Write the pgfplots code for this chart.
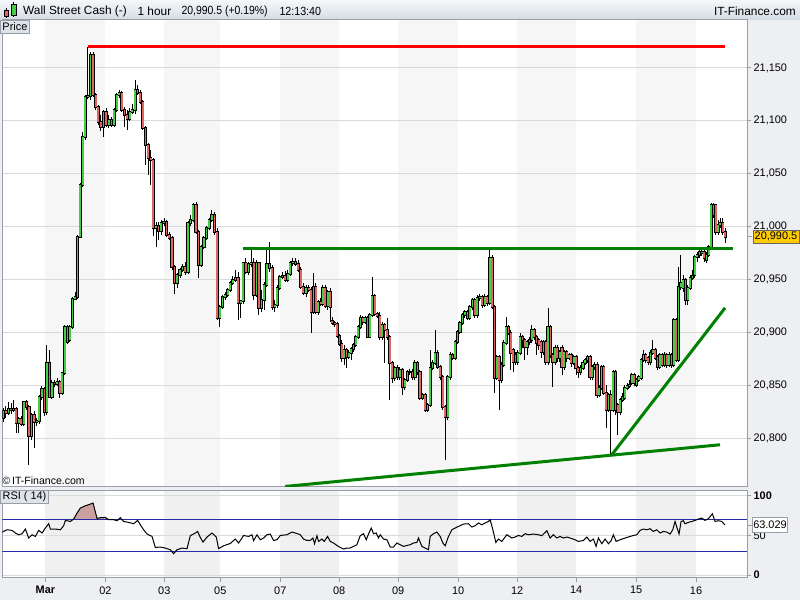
\documentclass[border=0pt]{standalone}
\usepackage{fontspec}
\setmainfont{Liberation Sans}
\usepackage{pgfplots}
\pgfplotsset{compat=1.18}
\usepackage{pgfplotstable}
\definecolor{bgc}{RGB}{238,239,242}
\definecolor{frame}{RGB}{150,158,168}
\definecolor{band}{RGB}{246,246,246}
\definecolor{bandr}{RGB}{240,240,240}
\definecolor{gridc}{RGB}{218,218,218}
\definecolor{upc}{RGB}{70,205,70}
\definecolor{dnc}{RGB}{224,100,100}
\definecolor{tl}{RGB}{0,128,0}
\definecolor{rsib}{RGB}{40,40,170}
\definecolor{rsif}{RGB}{205,160,160}
\definecolor{hdrtop}{RGB}{245,248,250}
\definecolor{hdrbot}{RGB}{212,220,228}
\definecolor{boxc}{RGB}{221,227,233}
\definecolor{gold}{RGB}{255,204,0}
\newcommand\fs[1]{\fontsize{#1}{#1}\selectfont}
\pgfplotsset{candle/.style={only marks, mark=*, mark size=0pt, mark options={draw=none, fill=none}, forget plot}}

\pgfplotstableread{
x o h l c
3.0 20819.2 20828.6 20815.4 20825.8
5.6 20825.8 20830.5 20819.2 20823.9
8.1 20823.9 20834.3 20822.0 20827.7
10.7 20827.7 20833.4 20823.0 20826.7
13.2 20826.7 20836.2 20824.9 20827.7
15.8 20827.7 20829.6 20805.0 20814.5
18.4 20814.5 20820.1 20805.0 20818.2
20.9 20818.2 20821.1 20811.6 20813.5
23.5 20813.5 20835.3 20811.6 20834.3
26.0 20834.3 20836.2 20826.7 20829.6
28.6 20829.6 20831.5 20774.8 20802.2
31.2 20802.2 20823.9 20798.4 20822.0
33.7 20822.0 20825.8 20790.8 20815.4
36.3 20815.4 20819.2 20811.6 20816.3
38.8 20816.3 20840.9 20813.5 20839.0
41.4 20839.0 20849.4 20836.2 20846.6
44.0 20846.6 20848.5 20821.1 20824.9
46.5 20824.9 20888.2 20822.0 20871.2
49.1 20871.2 20883.5 20838.1 20839.0
51.6 20839.0 20855.1 20837.1 20852.3
54.2 20852.3 20855.1 20848.5 20851.3
56.8 20851.3 20857.0 20849.4 20853.2
59.3 20853.2 20855.1 20838.1 20842.8
61.9 20842.8 20862.7 20840.9 20861.7
64.4 20861.7 20907.1 20859.8 20905.2
67.0 20905.2 20907.1 20889.1 20891.0
69.6 20892.9 20907.1 20891.0 20905.2
72.1 20905.2 20933.5 20903.3 20931.6
74.7 20931.6 20938.3 20930.7 20933.5
77.2 20933.5 20992.1 20931.6 20990.2
79.8 20990.2 21041.3 20989.3 21039.4
82.4 21039.4 21089.5 21037.5 21084.7
84.9 21084.7 21124.4 21081.9 21122.5
87.5 21122.5 21169.8 21120.6 21123.5
90.1 21123.5 21165.1 21119.7 21162.2
92.7 21162.2 21165.1 21122.5 21124.4
95.4 21124.4 21126.3 21110.2 21113.1
98.0 21113.1 21115.0 21096.1 21098.9
100.6 21098.9 21105.5 21090.4 21094.2
103.2 21094.2 21110.2 21084.7 21108.4
105.8 21108.4 21112.1 21094.2 21096.1
108.5 21096.1 21105.5 21093.2 21100.8
111.1 21100.8 21103.6 21094.2 21096.1
113.7 21096.1 21112.1 21094.2 21110.2
116.3 21110.2 21126.3 21108.4 21124.4
118.9 21124.4 21129.2 21121.6 21126.3
121.6 21126.3 21128.2 21108.4 21110.2
124.2 21110.2 21113.1 21094.2 21105.5
126.8 21105.5 21110.2 21091.4 21101.7
129.4 21101.7 21112.1 21099.9 21108.4
132.0 21108.4 21115.9 21106.5 21110.2
134.7 21110.2 21138.6 21106.5 21129.2
137.3 21129.2 21133.9 21124.4 21126.3
139.9 21126.3 21129.2 21115.9 21117.8
142.5 21117.8 21119.7 21091.4 21093.2
145.1 21093.2 21095.1 21058.3 21077.2
147.8 21077.2 21079.1 21048.8 21064.9
150.4 21064.9 21072.5 21039.4 21063.0
153.0 21063.0 21064.9 20991.2 20998.7
155.7 20998.7 21004.4 20980.8 21000.6
158.3 21000.6 21004.4 20987.4 20995.9
161.0 20995.9 21006.3 20992.1 21003.5
163.7 21003.5 21008.2 21000.6 21004.4
166.3 21004.4 21006.3 20990.2 20992.1
169.0 20992.1 20994.9 20987.4 20989.3
171.7 20989.3 20991.2 20959.1 20961.9
174.3 20961.9 20963.8 20936.4 20946.8
177.0 20946.8 20956.2 20942.0 20954.3
179.7 20954.3 20960.9 20951.5 20959.1
182.3 20959.1 20964.7 20957.2 20961.9
185.0 20961.9 20966.6 20954.3 20957.2
187.7 20957.2 21005.4 20955.3 21003.5
190.3 21003.5 21011.0 21000.6 21006.3
193.0 21006.3 21022.4 21004.4 21020.5
195.7 21020.5 21023.3 20993.1 20994.9
198.3 20994.9 20996.9 20951.5 20963.8
201.0 20963.8 20982.7 20961.9 20980.8
203.7 20980.8 20991.2 20978.9 20989.3
206.3 20989.3 21000.6 20987.4 20998.7
209.0 20998.7 21008.2 20996.9 21006.3
211.7 21006.3 21015.8 21004.4 21011.0
214.3 21011.0 21013.9 20992.1 20994.9
217.0 20994.9 20998.7 20911.8 20913.7
219.6 20913.7 20926.0 20905.2 20924.1
222.2 20924.1 20935.4 20922.2 20933.5
224.8 20933.5 20938.3 20930.7 20935.4
227.4 20935.4 20942.0 20933.5 20940.2
230.0 20940.2 20948.7 20938.3 20946.8
232.6 20946.8 20953.4 20944.9 20949.6
235.2 20949.6 20959.1 20947.7 20951.5
237.8 20951.5 20957.2 20911.8 20927.9
240.4 20927.9 20930.7 20913.7 20929.8
243.0 20929.8 20966.6 20926.9 20965.7
245.6 20965.7 20970.4 20955.3 20957.2
248.2 20957.2 20966.6 20954.3 20964.7
250.8 20964.7 20977.9 20961.9 20965.7
253.5 20965.7 20970.4 20930.7 20935.4
256.1 20935.4 20968.5 20933.5 20965.7
258.7 20965.7 20966.6 20916.5 20923.1
261.3 20923.1 20940.2 20919.4 20930.7
263.9 20930.7 20947.7 20921.3 20944.9
266.5 20944.9 20977.9 20943.0 20964.7
269.2 20964.7 20985.5 20957.2 20960.9
271.8 20960.9 20963.8 20921.3 20924.1
274.4 20924.1 20930.7 20919.4 20926.0
277.0 20926.0 20944.9 20923.1 20942.0
279.6 20942.0 20954.3 20940.2 20952.5
282.2 20952.5 20957.2 20950.5 20953.4
284.8 20953.4 20958.1 20947.7 20949.6
287.5 20949.6 20959.1 20947.7 20955.3
290.1 20955.3 20967.6 20953.4 20965.7
292.7 20965.7 20970.4 20962.8 20966.6
295.3 20966.6 20970.4 20962.8 20964.7
297.9 20964.7 20968.5 20957.2 20959.1
300.5 20959.1 20961.9 20941.1 20943.0
303.1 20943.0 20946.8 20935.4 20937.3
305.8 20937.3 20944.9 20933.5 20942.0
308.4 20942.0 20944.9 20938.3 20940.2
311.0 20940.2 20943.0 20899.5 20919.4
313.3 20919.4 20956.2 20917.5 20943.0
315.7 20943.0 20946.8 20917.5 20919.4
318.0 20919.4 20930.7 20916.5 20928.8
320.4 20928.8 20932.6 20925.0 20926.9
322.7 20926.9 20944.9 20925.0 20942.0
325.1 20942.0 20944.9 20923.1 20925.0
327.4 20925.0 20940.2 20921.3 20938.3
329.8 20938.3 20942.0 20909.9 20924.1
332.1 20910.9 20914.6 20907.1 20909.0
334.5 20909.0 20910.9 20905.2 20908.0
336.8 20908.0 20909.9 20894.8 20896.7
339.2 20896.7 20898.6 20887.2 20889.1
341.5 20889.1 20892.9 20872.1 20875.9
343.8 20875.9 20888.2 20869.3 20883.5
346.2 20883.5 20885.3 20866.4 20876.8
348.5 20876.8 20883.5 20874.9 20880.6
350.9 20880.6 20886.3 20874.0 20884.4
353.2 20884.4 20890.1 20881.6 20888.2
355.6 20888.2 20897.6 20886.3 20895.7
357.9 20895.7 20907.1 20893.8 20905.2
360.3 20905.2 20916.5 20903.3 20913.7
362.6 20913.7 20915.6 20907.1 20909.9
365.0 20909.9 20915.6 20908.0 20913.7
367.3 20913.7 20915.6 20894.8 20895.7
369.7 20895.7 20918.4 20894.8 20916.5
372.0 20916.5 20952.5 20914.6 20934.5
374.5 20934.5 20936.4 20915.6 20917.5
377.0 20917.5 20919.4 20913.7 20915.6
379.6 20915.6 20919.4 20892.9 20895.7
382.1 20895.7 20909.9 20892.9 20907.1
384.6 20907.1 20909.0 20871.2 20902.4
387.1 20902.4 20913.7 20892.9 20895.7
389.6 20895.7 20897.6 20836.2 20871.2
392.1 20871.2 20873.1 20852.3 20857.0
394.7 20857.0 20868.3 20854.2 20866.4
397.2 20866.4 20869.3 20855.1 20857.9
399.7 20857.9 20867.4 20855.1 20864.6
402.2 20864.6 20866.4 20840.9 20848.5
404.7 20848.5 20857.0 20845.7 20855.1
407.2 20855.1 20864.6 20853.2 20862.7
409.8 20862.7 20865.5 20859.8 20862.7
412.3 20862.7 20865.5 20855.1 20857.9
414.8 20857.9 20874.0 20855.1 20871.2
417.3 20871.2 20873.1 20859.8 20862.7
419.8 20862.7 20864.6 20836.2 20838.1
422.3 20838.1 20842.8 20836.2 20840.9
424.9 20840.9 20842.8 20824.9 20826.7
427.4 20826.7 20833.4 20824.9 20831.5
429.9 20831.5 20883.5 20829.6 20866.4
432.4 20866.4 20874.0 20864.6 20871.2
434.9 20871.2 20902.4 20869.3 20880.6
437.4 20880.6 20883.5 20865.5 20867.4
440.0 20867.4 20869.3 20855.1 20857.9
442.5 20857.9 20859.8 20826.7 20829.6
445.0 20829.6 20831.5 20779.5 20820.1
447.5 20820.1 20859.8 20817.3 20857.9
449.9 20857.9 20881.6 20855.1 20878.7
452.4 20878.7 20880.6 20874.0 20875.9
454.9 20875.9 20892.9 20874.0 20891.0
457.4 20891.0 20902.4 20889.1 20900.5
459.8 20900.5 20910.9 20898.6 20909.0
462.3 20909.0 20918.4 20907.1 20916.5
464.8 20916.5 20921.3 20913.7 20919.4
467.2 20919.4 20921.3 20911.8 20913.7
469.7 20913.7 20926.0 20911.8 20924.1
472.2 20924.1 20932.6 20921.3 20930.7
474.6 20930.7 20932.6 20913.7 20916.5
477.1 20916.5 20935.4 20913.7 20932.6
479.6 20932.6 20936.4 20929.8 20933.5
482.1 20933.5 20935.4 20923.1 20926.0
484.5 20926.0 20936.4 20924.1 20933.5
487.0 20933.5 20935.4 20925.0 20927.9
489.5 20927.9 20978.9 20926.0 20970.4
492.0 20970.4 20973.2 20922.2 20924.1
494.3 20924.1 20926.0 20842.8 20857.0
496.7 20857.0 20878.7 20855.1 20876.8
499.0 20876.8 20878.7 20826.7 20855.1
501.3 20855.1 20872.1 20852.3 20869.3
503.7 20869.3 20892.9 20867.4 20890.1
506.0 20890.1 20914.6 20888.2 20905.2
508.3 20905.2 20907.1 20897.6 20899.5
510.6 20899.5 20902.4 20864.6 20880.6
513.0 20883.5 20885.3 20862.7 20872.1
515.3 20878.7 20881.6 20869.3 20872.1
517.6 20872.1 20883.5 20869.3 20880.6
520.0 20880.6 20899.5 20878.7 20895.7
522.3 20895.7 20897.6 20885.3 20892.9
524.6 20892.9 20894.8 20874.0 20886.3
527.0 20886.3 20892.9 20878.7 20891.0
529.3 20891.0 20895.7 20888.2 20892.9
531.6 20892.9 20907.1 20890.1 20902.4
533.9 20902.4 20904.2 20892.9 20895.7
536.3 20895.7 20897.6 20878.7 20890.1
538.6 20892.9 20894.8 20883.5 20888.2
540.9 20891.0 20892.9 20875.9 20881.6
543.3 20881.6 20892.9 20878.7 20891.0
545.6 20891.0 20892.9 20869.3 20872.1
547.9 20872.1 20923.1 20869.3 20905.2
550.3 20905.2 20907.1 20875.9 20878.7
552.6 20878.7 20880.6 20848.5 20872.1
554.9 20872.1 20888.2 20869.3 20885.3
557.2 20885.3 20888.2 20872.1 20875.9
559.6 20875.9 20883.5 20872.1 20881.6
561.9 20885.3 20888.2 20859.8 20867.4
564.2 20867.4 20883.5 20864.6 20881.6
566.6 20881.6 20883.5 20872.1 20875.9
568.9 20875.9 20880.6 20874.0 20878.7
571.2 20878.7 20880.6 20867.4 20871.2
573.6 20871.2 20878.7 20869.3 20876.8
575.9 20876.8 20878.7 20859.8 20866.4
578.2 20866.4 20868.3 20857.0 20862.7
580.5 20862.7 20869.3 20859.8 20866.4
582.9 20866.4 20874.0 20864.6 20871.2
585.2 20871.2 20875.9 20869.3 20874.0
587.5 20874.0 20878.7 20871.2 20876.8
589.9 20876.8 20878.7 20855.1 20857.9
592.2 20857.9 20869.3 20855.1 20867.4
594.5 20867.4 20872.1 20864.6 20869.3
596.9 20869.3 20872.1 20838.1 20840.9
599.2 20840.9 20850.4 20839.0 20847.5
601.5 20847.5 20869.3 20845.7 20867.4
603.8 20867.4 20869.3 20840.9 20842.8
606.2 20842.8 20850.4 20809.7 20826.7
608.5 20826.7 20842.8 20824.9 20840.9
610.8 20840.9 20845.7 20784.2 20826.7
613.2 20826.7 20864.6 20824.9 20862.7
615.5 20862.7 20864.6 20822.0 20826.7
617.8 20831.5 20833.4 20803.1 20824.9
620.2 20824.9 20838.1 20822.0 20836.2
622.5 20836.2 20842.8 20834.3 20839.0
624.8 20838.1 20850.4 20836.2 20847.5
627.1 20847.5 20852.3 20845.7 20849.4
629.5 20849.4 20855.1 20847.5 20850.4
631.8 20852.3 20861.7 20850.4 20859.8
634.1 20859.8 20861.7 20849.4 20852.3
636.5 20850.4 20857.0 20848.5 20855.1
638.8 20855.1 20859.8 20853.2 20857.9
641.1 20857.0 20875.9 20855.1 20874.0
643.5 20874.0 20883.5 20872.1 20878.7
645.8 20878.7 20880.6 20871.2 20874.0
648.1 20875.9 20877.8 20869.3 20872.1
650.4 20872.1 20883.5 20869.3 20880.6
652.8 20880.6 20892.9 20878.7 20883.5
655.1 20883.5 20885.3 20874.0 20875.9
657.4 20876.8 20878.7 20864.6 20867.4
659.8 20867.4 20880.6 20865.5 20878.7
662.1 20878.7 20880.6 20867.4 20869.3
664.4 20869.3 20881.6 20867.4 20878.7
666.8 20878.7 20880.6 20866.4 20869.3
669.1 20869.3 20881.6 20867.4 20878.7
671.4 20878.7 20880.6 20866.4 20869.3
673.7 20869.3 20913.7 20867.4 20911.8
676.1 20911.8 20913.7 20872.1 20874.0
678.4 20874.0 20961.9 20872.1 20943.0
680.7 20943.0 20973.2 20940.2 20946.8
683.1 20942.0 20954.3 20938.3 20949.6
685.4 20949.6 20951.5 20926.0 20930.7
687.7 20930.7 20944.9 20926.0 20942.0
690.1 20942.0 20954.3 20940.2 20951.5
692.4 20951.5 20959.1 20949.6 20953.4
694.7 20954.3 20973.2 20951.5 20971.3
697.0 20971.3 20976.1 20966.6 20973.2
699.4 20973.2 20977.9 20970.4 20976.1
701.7 20975.1 20978.9 20972.3 20976.1
704.0 20976.1 20978.9 20966.6 20970.4
706.4 20968.5 20976.1 20965.7 20973.2
708.7 20973.2 20982.7 20971.3 20980.8
711.0 20980.8 21022.4 20978.9 21020.5
713.4 21020.5 21022.4 21008.2 21011.0
715.7 21020.5 21021.4 20992.1 20994.9
718.0 20994.9 21006.3 20992.1 21001.6
720.3 21001.6 21008.2 20998.7 21003.5
722.7 21003.5 21008.2 20992.1 20994.9
725.0 20994.9 20998.7 20984.6 20990.5
}\candles

\pgfplotstableread{
x v
0 53.0
6.7 57.1
11.7 56.3
15 53.0
18.3 50.8
21.7 52.1
25 58.0
28.3 46.7
31.7 50.8
35 48.7
38.3 56.3
41.7 53.0
45 59.3
48.3 64.7
50 58.0
55 58.0
60 57.1
63.3 62.2
65 68.9
70 67.6
73.3 70.6
76.7 78.2
80 84.5
85 87.4
88.3 88.7
92.7 90.8
96.7 71.4
100 72.3
105 72.7
108.3 69.8
113.3 69.8
116.7 68.5
120 72.3
123.3 67.6
128.3 66.4
133.3 64.7
137.3 68.9
140 63.4
143.3 57.1
146.7 51.7
151.7 48.7
155 34.8
160 35.3
165 34.0
170 31.9
173.3 26.9
176.7 31.9
181.7 34.0
186.7 33.2
190 49.6
195 53.0
197.3 55.0
200 47.4
202.7 41.6
206.7 47.9
211.7 53.0
216 47.9
218.3 33.2
223.3 36.9
230 39.8
235 45.4
238.3 40.4
241.7 46.7
243.3 49.9
248.3 48.7
251.7 50.8
253.3 43.3
256.7 50.8
260 44.5
263.3 46.7
266.7 50.8
270 51.7
273.3 43.6
276.7 44.5
280 49.9
286.7 50.8
291.7 54.2
295 53.0
298.3 51.7
300 50.8
303.3 45.4
306.7 43.6
310 43.6
312.7 46.7
314.3 39.5
316.7 49.6
318.3 42.4
321.7 45.4
324 42.4
327.3 48.7
330 42.4
333.3 40.4
336.7 37.3
340 34.8
343.3 32.8
346.7 34.0
350 34.0
353.3 36.1
356.7 38.2
360 49.6
363.3 52.1
366 44.5
368.3 51.7
371 59.3
373.3 52.1
376 53.0
378.3 46.7
380 50.8
383.3 45.4
386.7 44.5
390 35.3
393.3 35.3
396.7 40.4
400 38.2
403.3 36.1
406.7 37.3
410 38.2
413.3 40.4
416.7 41.1
418.3 46.7
421.7 36.1
425 34.0
428.3 31.9
430 48.7
433.3 52.1
436.7 54.2
440 48.7
442.7 40.4
445 36.9
448.3 48.7
451.7 57.1
455 59.3
458.3 61.3
463.3 64.3
468.3 64.7
471.7 60.5
475 62.2
478.3 65.6
481.7 63.4
485 65.6
488.3 67.6
490 69.7
492.7 57.1
495.7 41.1
498.3 45.4
501.7 42.4
506.7 50.8
511.7 46.7
515 47.9
518.3 49.9
521.7 48.7
525 52.1
528.3 50.8
533.3 51.7
538.3 50.8
541.7 49.6
546.7 55.9
550 46.7
553.3 50.8
556.7 46.7
560 48.7
563.3 46.7
566.7 47.9
570 46.7
575 44.5
578.3 42.4
583.3 43.6
586.7 47.9
590 42.4
593.3 45.4
596 36.1
598.3 46.7
601.7 39.5
605 45.4
608.3 39.5
611 43.3
613.3 50.8
616 42.4
620 44.5
626.7 47.4
633.3 49.9
636.7 50.8
640 56.3
643.3 58.0
646.7 57.1
650 58.4
653.3 55.0
656.7 57.1
660 53.0
663.3 55.0
666.7 54.2
670 51.7
672.7 57.1
675 67.6
676.7 60.5
679 51.7
681 67.6
683.3 68.5
685 64.7
688.3 66.4
691.7 67.6
695 68.9
698.3 70.6
701.7 71.9
705 68.9
708.3 71.0
712.3 77.3
715 67.6
718.3 68.5
721.7 67.6
725 63.0
}\rsi

\begin{document}
\begin{tikzpicture}
\begin{scope}[x=0.75pt,y=0.75pt]
% background and header
\fill[bgc] (0,0) rectangle (800,600);
\shade[top color=hdrtop,bottom color=hdrbot] (0,580) rectangle (800,600);
% header icon
\draw[black,line width=0.6pt] (5.8,592) -- (5.8,582);
\filldraw[fill=dnc,draw=black,line width=0.5pt] (3.5,590) rectangle (8.2,583.5);
\draw[black,line width=0.6pt] (13.5,598) -- (13.5,583);
\filldraw[fill=upc,draw=black,line width=0.5pt] (11.2,596) rectangle (15.8,585);
\node[anchor=west,inner sep=0pt,font=\fs{8.9}] at (22.5,589) {Wall Street Cash (-)};
\node[anchor=west,inner sep=0pt,font=\fs{8.9}] at (137,589) {1 hour};
\node[anchor=west,inner sep=0pt,font=\fs{8.9},xscale=0.88] at (181,589) {20,990.5 (+0.19\%)};
\node[anchor=west,inner sep=0pt,font=\fs{8.9},xscale=0.9] at (279,589) {12:13:40};
\node[anchor=east,inner sep=0pt,font=\fs{8.9}] at (796,589) {IT-Finance.com};
% panels
\fill[white] (2,113) rectangle (747,580);
\fill[white] (2,22) rectangle (747,109.3);
\foreach \a/\b in {45/105,164/220,280/339,398/458,517/576,636/696} {
  \fill[band] (\a,113) rectangle (\b,580);
  \fill[bandr] (\a,22) rectangle (\b,109.3);
}
\end{scope}

\begin{axis}[
  at={(1.5pt,84.75pt)}, anchor=south west, scale only axis,
  width=558.75pt, height=350.25pt,
  xmin=2, xmax=747, ymin=20754.0, ymax=21195.3,
  axis line style={frame, line width=0.75pt},
  xtick=\empty,
  ytick={20800,20850,...,21150},
  scaled y ticks=false,
  ytick pos=right, yticklabel pos=right,
  tick align=outside, major tick length=3pt,
  tick style={frame, line width=0.75pt},
  ymajorgrids, grid style={gridc, line width=0.75pt},
  yticklabel style={font=\fs{8.2}, xshift=-1.6pt},
  /pgf/number format/1000 sep={,},
  /pgf/number format/assume math mode=true,
  clip=true,
]
% wicks
\addplot[candle,
  error bars/.cd, y dir=plus, y explicit, error mark=none,
  error bar style={line width=0.75pt, black}]
  table[x=x, y=l, y error plus expr={\thisrow{h}-\thisrow{l}}] {\candles};
% body outlines
\addplot[candle,
  error bars/.cd, y dir=both, y explicit, error mark=none,
  error bar style={line width=2.3pt, black}]
  table[x=x, y=c, y error plus expr={max(\thisrow{o},\thisrow{c})-\thisrow{c}+0.8},
        y error minus expr={\thisrow{c}-min(\thisrow{o},\thisrow{c})+0.8}] {\candles};
% up bodies
\addplot[candle,
  restrict expr to domain={\thisrow{c}-\thisrow{o}}{0.01:1000},
  error bars/.cd, y dir=plus, y explicit, error mark=none,
  error bar style={line width=1.3pt, upc}]
  table[x=x, y=o, y error plus expr={\thisrow{c}-\thisrow{o}}] {\candles};
% down bodies
\addplot[candle,
  restrict expr to domain={\thisrow{o}-\thisrow{c}}{0.01:1000},
  error bars/.cd, y dir=plus, y explicit, error mark=none,
  error bar style={line width=1.3pt, dnc}]
  table[x=x, y=c, y error plus expr={\thisrow{o}-\thisrow{c}}] {\candles};
% trend lines
\addplot[red, line width=2.25pt, forget plot] coordinates {(88,21169.8) (725,21169.8)};
\addplot[tl, line width=2.25pt, forget plot] coordinates {(243,20979) (733,20979)};
\addplot[tl, line width=2.25pt, forget plot] coordinates {(285,20754.3) (720,20793.7)};
\addplot[tl, line width=2.25pt, forget plot] coordinates {(611.7,20784.2) (725,20923.1)};
\coordinate (pb) at (axis cs:747,20990.5);
\end{axis}

\begin{axis}[
  at={(1.5pt,16.5pt)}, anchor=south west, scale only axis,
  width=558.75pt, height=65.475pt,
  xmin=2, xmax=747, ymin=-3.4, ymax=106.7,
  axis line style={frame, line width=0.75pt},
  xtick={45,105,164,220,280,339,398,458,517,576,636,696},
  xticklabels={\textbf{Mar},02,03,05,07,08,09,10,12,14,15,16},
  xtick pos=bottom,
  ytick={0,50,100}, yticklabels={\textbf{0},50,\textbf{100}},
  ytick pos=right, yticklabel pos=right,
  tick align=outside, major tick length=3pt,
  tick style={frame, line width=0.75pt},
  ymajorgrids, grid style={gridc, line width=0.75pt},
  yticklabel style={font=\fs{8.2}, xshift=-1.6pt},
  xticklabel style={font=\fs{8.2}},
  clip=true,
]
\addplot[fill=rsif, draw=none, forget plot] coordinates {(72.5,70) (73.3,70.6) (76.7,78.2) (80,84.5) (85,87.4) (88.3,88.7) (92.7,90.8) (96.7,71.4) (100,72.3) (105,72.7) (107.8,70)} -- cycle;
\addplot[rsib, line width=0.75pt, forget plot] coordinates {(2,70) (747,70)};
\addplot[rsib, line width=0.75pt, forget plot] coordinates {(2,30) (747,30)};
\addplot[black, line width=0.75pt, forget plot] table[x=x, y=v] {\rsi};
\coordinate (rb) at (axis cs:747,63.029);
\end{axis}

\begin{scope}[x=0.75pt,y=0.75pt]
% labels and boxes
\draw[frame, line width=0.75pt] (pb) -- ++(5,0);
\node[fill=gold, draw=black!60, line width=0.5pt, anchor=west, inner xsep=1.3pt, inner ysep=0pt,
      minimum height=9.5pt, font=\fs{8.2}] at ([xshift=4.2pt]pb) {20,990.5};
\draw[frame, line width=0.75pt] (rb) -- ++(5,0);
\node[fill=white, draw=frame, line width=0.6pt, anchor=west, inner xsep=0.8pt, inner ysep=0pt,
      minimum height=11.5pt, font=\fs{8.2}] at ([xshift=3.6pt]rb) {63.029};
% Price box
\filldraw[fill=boxc, draw=frame, line width=0.6pt] (0,566.5) rectangle (29.5,580);
\node[anchor=west, inner sep=0pt, font=\fs{8.2}] at (1.8,573.2) {Price};
% RSI box
\filldraw[fill=boxc, draw=frame, line width=0.6pt] (0,96) rectangle (48,109.3);
\node[anchor=west, inner sep=0pt, font=\fs{8.2}] at (2,102.6) {RSI ( 14)};
% copyright
\node[anchor=west, inner sep=0pt, font=\fs{7.9}] at (2,119) {\textcopyright\,IT-Finance.com};
\end{scope}
\end{tikzpicture}
\end{document}
